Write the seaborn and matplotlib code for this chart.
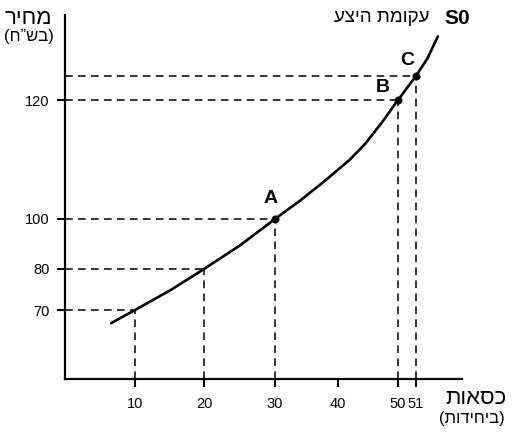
import numpy as np
import pandas as pd
import seaborn as sns
import matplotlib
matplotlib.use('Agg')
import matplotlib.pyplot as plt

# supply curve S0 (quantity in units, price in NIS)
curve_q = [6.6, 10, 15.1, 20, 25.1, 30, 34.0, 37.9, 42.0, 44.5, 47.3, 50, 51, 52.0, 52.9]
curve_p = [68.1, 70, 74.8, 80, 89.5, 100, 103.1, 106.4, 110.0, 112.6, 116.2, 120, 125, 127.9, 131.5]

# dashed guides down to the axes
guide_q = [10, 20, 30, 50, 51]
guide_p = [70, 80, 100, 120, 125]

# marked points
point_names = ['A', 'B', 'C']
point_q = [30, 50, 51]
point_p = [100, 120, 125]

x_ticks = [10, 20, 30, 40, 50, 51]
y_ticks = [70, 80, 100, 120]

# the drawing is schematic: axis spacing is not linear, so map it piecewise
x_knots = [0, 10, 20, 30, 40, 50, 51, 55]
x_span = [0, 70, 139, 210, 273, 333, 351, 397]
y_knots = [60, 70, 80, 100, 120, 125, 135]
y_span = [0, 69, 110, 160, 279, 303, 364]


def fx(v):
    return np.interp(v, x_knots, x_span)


def fx_inv(v):
    return np.interp(v, x_span, x_knots)


def fy(v):
    return np.interp(v, y_knots, y_span)


def fy_inv(v):
    return np.interp(v, y_span, y_knots)


sns.set_style('ticks')
plt.rcParams['font.family'] = ['Liberation Sans', 'DejaVu Sans']
plt.rcParams['text.color'] = 'black'
plt.rcParams['axes.labelcolor'] = 'black'

fig = plt.figure(figsize=(5.12, 4.33), dpi=100)
ax = fig.add_axes([65 / 512, 1 - 379 / 433, 397 / 512, 364 / 433])
ax.set_xscale('function', functions=(fx, fx_inv))
ax.set_yscale('function', functions=(fy, fy_inv))
ax.set_xlim(0, 55)
ax.set_ylim(60, 135)

for q, p in zip(guide_q, guide_p):
    ax.plot([0, q], [p, p], color='black', lw=1.1, ls=(0, (5, 3.5)))
    ax.plot([q, q], [60, p], color='black', lw=1.1, ls=(0, (5, 3.5)))

df = pd.DataFrame({'q': curve_q, 'p': curve_p})
sns.lineplot(data=df, x='q', y='p', sort=False, color='black', lw=1.9, ax=ax)
sns.scatterplot(x=point_q, y=point_p, color='black', s=28, edgecolor='black', zorder=5, ax=ax)

offsets = {'A': (-3, 15), 'B': (-11, 9), 'C': (-6.5, 11)}
for name, q, p in zip(point_names, point_q, point_p):
    ax.annotate(name, (q, p), xytext=offsets[name], textcoords='offset points',
                ha='center', va='center', fontsize=14, fontweight='bold')

ax.set_xticks(x_ticks)
ax.set_xticklabels([str(t) for t in x_ticks])
ax.set_yticks(y_ticks)
ax.set_yticklabels([str(t) for t in y_ticks])
ax.minorticks_off()
ax.tick_params(axis='both', direction='out', length=6, width=1.5, colors='black', labelsize=10.5)
ax.tick_params(axis='x', pad=7)
ax.tick_params(axis='y', pad=5)
ax.set_xlabel('')
ax.set_ylabel('')

sns.despine(ax=ax)
for side in ['left', 'bottom']:
    ax.spines[side].set_linewidth(1.6)
    ax.spines[side].set_color('black')

# Hebrew text in visual (right-to-left) order
def rtl(s):
    return s[::-1]

fig.text(28 / 512, 1 - 18 / 433, rtl('מחיר'), ha='center', va='center', fontsize=16)
fig.text(28.5 / 512, 1 - 36 / 433, '(' + rtl('בש”ח') + ')', ha='center', va='center', fontsize=12)
fig.text(476 / 512, 1 - 399 / 433, rtl('כסאות'), ha='center', va='center', fontsize=16)
fig.text(472 / 512, 1 - 419 / 433, '(' + rtl('ביחידות') + ')', ha='center', va='center', fontsize=12)
fig.text(382 / 512, 1 - 18 / 433, rtl('עקומת היצע'), ha='center', va='center', fontsize=13.5)
fig.text(457 / 512, 1 - 18 / 433, 'S0', ha='center', va='center', fontsize=15, fontweight='bold')

fig.savefig('out.png', dpi=100)
